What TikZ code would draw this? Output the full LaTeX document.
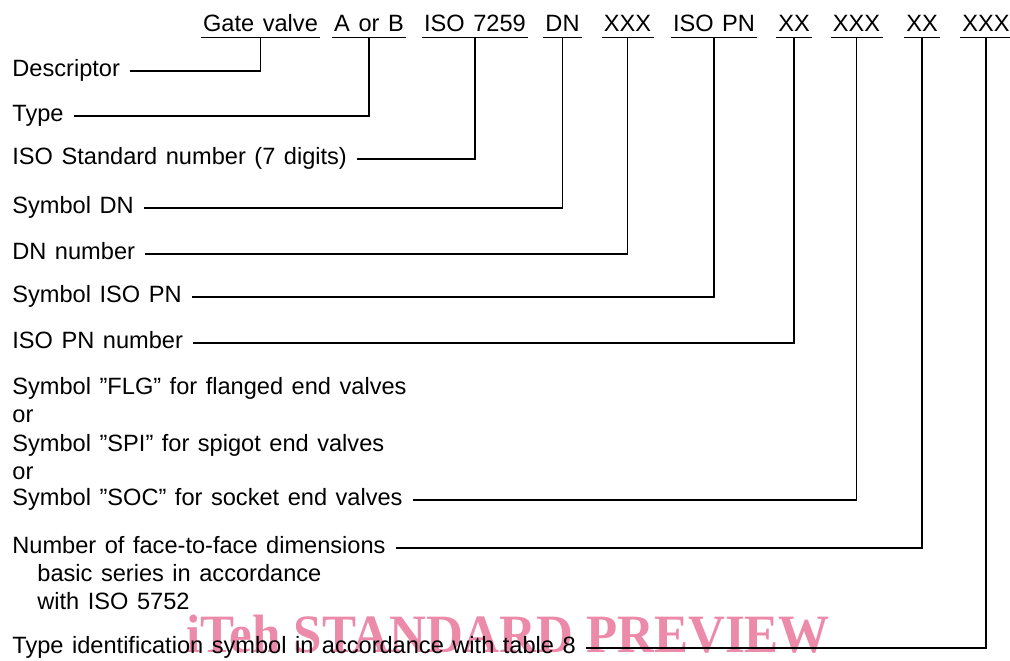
\documentclass[tikz,border=0pt]{standalone}
\usepackage{fontspec}
\setmainfont{Liberation Sans}[WordSpace=1.3]
\newfontfamily\markfont{Liberation Serif}
\definecolor{stamppink}{RGB}{236,138,170}
\newcommand\lblfont{\fontsize{11.8}{14}\selectfont}
\tikzset{
    field/.style={inner xsep=1pt, inner ysep=3pt, font=\lblfont, anchor=base},
    item/.style={inner sep=0pt, font=\lblfont, anchor=mid west},
    lead/.style={draw, line width=0.8pt, shorten <=5pt},
    uline/.style={line width=0.8pt},
    stamp/.style={text=stamppink, font=\markfont\bfseries\fontsize{27}{27}\selectfont, xscale=0.945, inner sep=0pt, anchor=base west}
}
\begin{document}
\begin{tikzpicture}[x=0.5pt, y=-0.5pt]
\useasboundingbox (0,0) rectangle (1010,660);
% preview stamp behind the text
\node[stamp] (mark) at (186,652) {iTeh STANDARD PREVIEW};
% designation fields
\node[field] (gate) at (260.5,31) {Gate valve};
\node[field] (atype) at (369,31) {A or B};
\node[field] (stdno) at (475,31) {ISO 7259};
\node[field] (dnsym) at (562.5,31) {DN};
\node[field] (dnval) at (627.5,31) {XXX};
\node[field] (pnsym) at (714,31) {ISO PN};
\node[field] (pnval) at (794,31) {XX};
\node[field] (ends) at (856.5,31) {XXX};
\node[field] (ftf) at (922,31) {XX};
\node[field] (tid) at (986,31) {XXX};
\foreach \f in {gate,atype,stdno,dnsym,dnval,pnsym,pnval,ends,ftf,tid}
    \draw[uline] (\f.south west) -- (\f.south east);
% explanations
\node[item] (desc) at (12,71) {Descriptor};
\node[item] (typ) at (12,116) {Type};
\node[item] (isostd) at (12,159) {ISO Standard number (7 digits)};
\node[item] (symdn) at (12,208) {Symbol DN};
\node[item] (dnno) at (12,254) {DN number};
\node[item] (sympn) at (12,297) {Symbol ISO PN};
\node[item] (pnno) at (12,343) {ISO PN number};
\node[item] (flg) at (12,389) {Symbol ''FLG'' for flanged end valves};
\node[item] (orone) at (12,417) {or};
\node[item] (spi) at (12,446) {Symbol ''SPI'' for spigot end valves};
\node[item] (ortwo) at (12,474) {or};
\node[item] (soc) at (12,500) {Symbol ''SOC'' for socket end valves};
\node[item] (ftfno) at (12,548) {Number of face-to-face dimensions};
\node[item] (basic) at (37,576) {basic series in accordance};
\node[item] (withiso) at (37,604) {with ISO 5752};
\node[item] (typeid) at (12,648) {Type identification symbol in accordance with table 8};
% leaders
\draw[lead] (desc.mid east) -| (gate.south);
\draw[lead] (typ.mid east) -| (atype.south);
\draw[lead] (isostd.mid east) -| (stdno.south);
\draw[lead] (symdn.mid east) -| (dnsym.south);
\draw[lead] (dnno.mid east) -| (dnval.south);
\draw[lead] (sympn.mid east) -| (pnsym.south);
\draw[lead] (pnno.mid east) -| (pnval.south);
\draw[lead] (soc.mid east) -| (ends.south);
\draw[lead] (ftfno.mid east) -| (ftf.south);
\draw[lead] (typeid.mid east) -| (tid.south);
\end{tikzpicture}
\end{document}
